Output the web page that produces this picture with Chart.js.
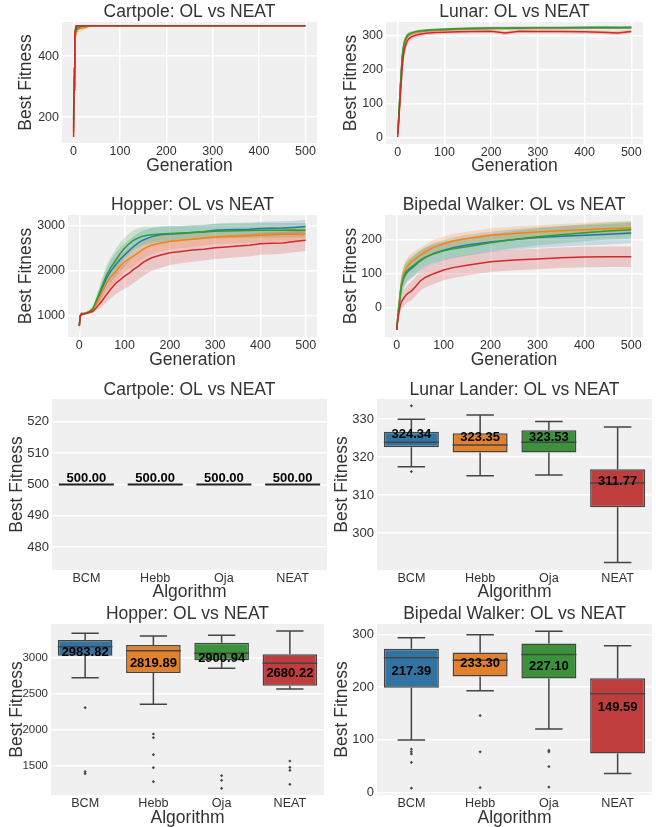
<!DOCTYPE html>
<html lang="en">
<head>
  <meta charset="UTF-8">
  <title>OL vs NEAT</title>
  <script src="https://cdn.jsdelivr.net/npm/chart.js@4"></script>
  <style>
    body { margin: 0; background: #fff; width: 656px; height: 827px; position: relative; overflow: hidden; }
    canvas { position: absolute; }
  </style>
</head>
<body>
  <canvas id="c1"></canvas><canvas id="c2"></canvas>
  <canvas id="c3"></canvas><canvas id="c4"></canvas>
  <canvas id="c5"></canvas><canvas id="c6"></canvas>
  <canvas id="c7"></canvas><canvas id="c8"></canvas>

  <script>
    // ---- line charts: mean best fitness per generation (+/- std band) ----
    const cpGen = [0,1,2,3,4,5,6,7,8,10,12,15,20,25,30,40,60,100,200,300,400,500];
    const cpBcm  = [165,330,430,470,485,492,495,497,499,500,500,500,500,500,500,500,500,500,500,500,500,500];
    const cpHebb = [150,300,410,455,470,478,482,485,487,489,490,491,492,494,497,499,500,500,500,500,500,500];
    const cpOja  = [190,360,440,470,480,485,487,489,490,492,494,496,498,499,500,500,500,500,500,500,500,500];
    const cpNeat = [135,290,420,470,490,496,498,500,500,500,500,500,500,500,500,500,500,500,500,500,500,500];
    const cpBcmSd  = [30,60,50,30,18,10,6,4,2,0,0,0,0,0,0,0,0,0,0,0,0,0];
    const cpHebbSd = [30,70,70,45,30,25,20,18,16,13,12,10,9,7,4,2,0,0,0,0,0,0];
    const cpOjaSd  = [30,60,55,35,25,18,14,12,10,8,6,4,3,2,0,0,0,0,0,0,0,0];
    const cpNeatSd = [30,70,60,30,12,5,3,0,0,0,0,0,0,0,0,0,0,0,0,0,0,0];

    const lnGen = [0,2,4,6,8,10,12,15,20,25,30,40,50,60,80,100,130,160,200,230,260,300,350,400,450,470,500];
    const lnBcm  = [12,55,105,155,200,240,262,282,298,304,307,311,313,315,317,318,320,321,322,322,323,323,323,324,324,324,324];
    const lnHebb = [10,50,100,150,195,235,258,280,296,302,306,310,312,314,316,317,319,320,321,321,322,322,323,323,323,323,323];
    const lnOja  = [14,58,108,158,202,242,264,284,299,305,308,312,314,315,317,318,320,321,322,322,322,323,323,323,324,323,324];
    const lnNeat = [2,40,85,130,170,210,238,262,284,292,297,302,305,307,309,310,311,312,313,308,313,312,312,311,309,308,312];
    const lnBcmSd  = [10,20,25,25,25,22,18,12,8,6,5,4,4,4,4,4,4,4,4,4,4,4,4,4,4,4,4];
    const lnHebbSd = [10,20,25,25,25,22,18,13,9,7,6,5,5,5,5,5,4,4,4,4,4,4,4,4,4,4,4];
    const lnOjaSd  = [10,20,25,25,25,22,18,12,8,6,5,4,4,4,4,4,4,4,4,4,4,4,4,4,4,4,4];
    const lnNeatSd = [8,18,25,28,28,26,22,16,12,10,9,8,7,7,6,6,6,6,6,6,6,6,6,6,6,6,6];

    const hpGen = [0,2,5,10,15,20,25,30,35,40,50,60,70,80,90,100,110,120,130,140,150,160,180,200,225,250,275,300,325,350,375,400,425,450,475,500];
    const hpBcm  = [780,1000,1040,1045,1060,1080,1110,1150,1250,1360,1600,1830,2000,2130,2250,2350,2450,2540,2620,2680,2720,2760,2800,2820,2830,2850,2870,2900,2910,2920,2925,2940,2945,2950,2965,2985];
    const hpHebb = [780,1000,1040,1045,1060,1080,1105,1140,1220,1310,1520,1720,1870,1980,2100,2200,2270,2330,2400,2470,2530,2570,2620,2650,2680,2700,2730,2750,2760,2770,2780,2790,2800,2810,2815,2820];
    const hpOja  = [780,1000,1040,1045,1060,1080,1110,1160,1280,1400,1650,1900,2080,2230,2380,2500,2600,2680,2730,2770,2790,2800,2820,2830,2840,2850,2860,2880,2885,2890,2895,2900,2900,2900,2905,2900];
    const hpNeat = [780,1000,1040,1045,1055,1070,1085,1100,1150,1210,1330,1470,1600,1720,1800,1880,1950,2030,2100,2180,2240,2290,2350,2400,2430,2460,2480,2510,2530,2550,2570,2600,2610,2620,2650,2680];
    const hpBcmSd  = [150,60,40,30,30,30,40,50,80,120,180,220,250,260,260,250,240,230,220,210,200,190,180,170,160,160,155,150,150,150,150,150,150,150,150,150];
    const hpHebbSd = [150,60,40,30,30,30,40,50,70,100,150,190,210,220,230,230,230,230,220,220,210,200,190,180,175,170,165,160,160,160,160,160,160,160,160,160];
    const hpOjaSd  = [150,60,40,30,30,30,40,50,80,120,180,220,240,250,250,240,230,220,210,200,190,180,170,160,160,160,160,160,160,160,160,160,160,160,160,160];
    const hpNeatSd = [150,60,40,30,30,30,40,50,60,80,120,170,210,240,260,280,290,300,300,300,300,290,280,270,260,260,250,250,250,250,250,245,245,240,240,240];

    const bpGen = [0,2,4,6,8,10,15,20,25,30,40,50,60,70,80,100,120,150,200,250,300,350,400,450,500];
    const bpBcm  = [-65,-33,-5,18,42,63,87,100,108,113,125,137,146,153,159,168,175,183,192,199,205,209,212,215,218];
    const bpHebb = [-65,-30,0,25,50,70,100,115,125,132,143,153,162,170,177,187,195,202,212,217,221,225,228,231,233];
    const bpOja  = [-65,-32,-3,20,45,66,90,105,112,118,128,139,147,153,158,166,172,178,190,199,207,213,219,224,228];
    const bpNeat = [-65,-40,-20,-5,8,17,28,37,43,47,61,78,88,94,100,110,117,124,134,139,142,146,148,149,149];
    const bpBcmSd  = [5,15,20,25,28,30,30,30,30,30,30,30,30,30,30,30,30,30,30,30,30,30,30,30,30];
    const bpHebbSd = [5,15,20,25,25,25,25,25,25,25,24,23,22,22,22,21,21,20,20,20,20,20,20,20,20];
    const bpOjaSd  = [5,15,20,25,28,30,30,30,30,30,30,28,27,27,27,26,26,26,25,25,25,25,25,25,25];
    const bpNeatSd = [5,10,15,18,20,22,24,25,26,27,28,29,30,30,30,30,30,30,30,30,30,30,30,30,30];

    // ---- box plots: final best fitness per algorithm ----
    const algos = ['BCM', 'Hebb', 'Oja', 'NEAT'];

    const cbLo = [500,500,500,500], cbQ1 = [500,500,500,500], cbMed = [500,500,500,500];
    const cbQ3 = [500,500,500,500], cbHi = [500,500,500,500];
    const cbFly = [[], [], [], []];
    const cbMean = [500.00, 500.00, 500.00, 500.00];

    const lbLo  = [317.5, 315.1, 315.3, 292.3];
    const lbQ1  = [322.6, 321.2, 321.2, 306.8];
    const lbMed = [323.9, 323.2, 323.9, 313.2];
    const lbQ3  = [326.7, 326.3, 327.1, 316.8];
    const lbHi  = [330.0, 331.1, 329.4, 327.9];
    const lbFly = [[333.5, 316.2], [], [], []];
    const lbMean = [324.34, 323.35, 323.53, 311.77];

    const hbLo  = [2718, 2347, 2847, 2560];
    const hbQ1  = [3023, 2782, 2958, 2606];
    const hbMed = [3148, 3093, 3056, 2917];
    const hbQ3  = [3241, 3171, 3204, 3042];
    const hbHi  = [3333, 3296, 3306, 3366];
    const hbFly = [[2301, 1412, 1384], [1935, 1884, 1648, 1468, 1273], [1356, 1292, 1181], [1560, 1472, 1431, 1236]];
    const hbMean = [2983.82, 2819.89, 2900.94, 2680.22];

    const bbLo  = [99.4, 193, 120.3, 36];
    const bbQ1  = [198.7, 220.3, 216.5, 74];
    const bbMed = [255.7, 251.3, 262, 187.3];
    const bbQ3  = [272.8, 265.8, 282.9, 217.1];
    const bbHi  = [293.7, 299.4, 306.3, 278.5];
    const bbFly = [[82, 77, 73, 57, 8], [146, 77, 9], [80, 77, 49, 10], []];
    const bbMean = [217.39, 233.30, 227.10, 149.59];

    const lineColors = ['#1f77b4', '#ff7f0e', '#2ca02c', '#d62728'];
    const boxColors = ['#3274a1', '#e1812c', '#3a923a', '#c03d3e'];

    const FONT = "'Liberation Sans', Arial, Helvetica, sans-serif";
    Chart.defaults.font.family = FONT;
    Chart.defaults.color = '#333';

    // subplot frames (canvas box + plot area), page pixels
    const L1 = {x:0,   y:0,   w:328, h:180, l:62,  t:22,  r:317, b:143, ty:12,  xt:165.7, yt:26.5};
    const L2 = {x:328, y:0,   w:328, h:180, l:386, t:22,  r:643, b:144, ty:12,  xt:165.7, yt:351.3};
    const L3 = {x:0,   y:180, w:328, h:190, l:68,  t:215, r:317, b:337, ty:205, xt:360,   yt:26.5};
    const L4 = {x:328, y:180, w:328, h:190, l:385, t:215, r:643, b:337, ty:205, xt:360,   yt:351.3};
    const L5 = {x:0,   y:370, w:328, h:240, l:52,  t:399, r:327, b:570, ty:390, xt:591.7, yt:17};
    const L6 = {x:328, y:370, w:328, h:240, l:377, t:399, r:652, b:570, ty:390, xt:591.7, yt:342.5};
    const L7 = {x:0,   y:598, w:328, h:229, l:51,  t:624, r:327, b:795, ty:614, xt:818,   yt:17};
    const L8 = {x:328, y:598, w:328, h:229, l:377, t:624, r:652, b:795, ty:614, xt:818,   yt:342.5};

    const plotBg = {
      id: 'plotBg',
      beforeDraw(chart) {
        const { ctx, chartArea: a } = chart;
        ctx.save();
        ctx.fillStyle = '#f0f0f0';
        ctx.fillRect(a.left, a.top, a.right - a.left, a.bottom - a.top);
        ctx.restore();
      }
    };

    const axTitle = {
      id: 'axTitle',
      afterDraw(chart, args, o) {
        const { ctx, chartArea: a } = chart;
        ctx.save();
        ctx.font = '17.5px ' + FONT;
        ctx.fillStyle = '#333';
        ctx.textAlign = 'center';
        ctx.textBaseline = 'middle';
        ctx.fillText(o.text, (a.left + a.right) / 2, o.y);
        ctx.restore();
      }
    };

    function setup(id, L) {
      const cv = document.getElementById(id);
      cv.width = L.w; cv.height = L.h;
      cv.style.left = L.x + 'px';
      cv.style.top = L.y + 'px';
      return cv;
    }

    function rgba(hex, a) {
      const n = parseInt(hex.slice(1), 16);
      return `rgba(${n >> 16},${(n >> 8) & 255},${n & 255},${a})`;
    }

    function fixedTicks(vals) {
      return s => { s.ticks = vals.map(v => ({ value: v })); };
    }

    function baseOptions(L, title, xTitle, yMin, yMax, yTicks) {
      return {
        responsive: false,
        animation: false,
        events: [],
        layout: { padding: { left: 0, top: L.t - L.y, right: L.x + L.w - L.r, bottom: 0 } },
        plugins: {
          legend: { display: false },
          tooltip: { enabled: false },
          axTitle: { text: title, y: L.ty - L.y }
        },
        scales: {
          x: {
            afterFit: s => { s.height = L.y + L.h - L.b; },
            border: { display: false },
            grid: { color: '#ffffff', lineWidth: 1.5, drawTicks: false },
            ticks: { padding: 1, font: { size: 12.5 }, color: '#333', maxRotation: 0 },
            title: { display: true, text: xTitle, color: '#333', font: { size: 17.5, lineHeight: 1 },
                     padding: { top: 0, bottom: L.y + L.h - L.xt - 8.75 } }
          },
          y: {
            type: 'linear', min: yMin, max: yMax,
            afterBuildTicks: fixedTicks(yTicks),
            afterFit: s => { s.width = L.l - L.x; },
            border: { display: false },
            grid: { color: '#ffffff', lineWidth: 1.5, drawTicks: false },
            ticks: { padding: 3, font: { size: 12.5 }, color: '#333', callback: v => String(v) },
            title: { display: true, text: 'Best Fitness', color: '#333', font: { size: 17.5, lineHeight: 1 },
                     padding: { top: L.yt - L.x - 8.75, bottom: 0 } }
          }
        }
      };
    }

    function series(gen, mean, sd, color, order) {
      const pts = arr => gen.map((g, i) => ({ x: g, y: arr[i] }));
      const hi = mean.map((m, i) => m + sd[i]);
      const lo = mean.map((m, i) => m - sd[i]);
      return [
        { data: pts(hi), borderWidth: 0, pointRadius: 0, fill: '+1', backgroundColor: rgba(color, 0.2), order: order + 10 },
        { data: pts(lo), borderWidth: 0, pointRadius: 0, fill: false, order: order + 10 },
        { data: pts(mean), borderColor: color, borderWidth: 1.5, pointRadius: 0, fill: false, order: order }
      ];
    }

    function lineChart(id, L, title, gen, means, sds, yMin, yMax, yTicks) {
      const cv = setup(id, L);
      const datasets = [];
      // NEAT drawn last in matplotlib -> lowest order here
      means.forEach((m, i) => datasets.push(...series(gen, m, sds[i], lineColors[i], 3 - i)));
      const options = baseOptions(L, title, 'Generation', yMin, yMax, yTicks);
      Object.assign(options.scales.x, {
        type: 'linear', min: -25, max: 525,
        afterBuildTicks: fixedTicks([0, 100, 200, 300, 400, 500])
      });
      options.scales.x.ticks.callback = v => String(v);
      return new Chart(cv, { type: 'line', data: { datasets }, options, plugins: [plotBg, axTitle] });
    }

    function boxParts(st) {
      return {
        id: 'boxParts',
        afterDatasetsDraw(chart) {
          const { ctx } = chart;
          const xs = chart.scales.x, ys = chart.scales.y;
          const bars = chart.getDatasetMeta(0).data;
          const Y = v => ys.getPixelForValue(v);
          ctx.save();
          ctx.strokeStyle = st.line;
          ctx.lineWidth = st.lw;
          st.med.forEach((m, i) => {
            const xc = xs.getPixelForValue(i);
            const hw = bars[i].width / 2, cw = hw / 2;
            ctx.beginPath();
            ctx.moveTo(xc, Y(st.q3[i])); ctx.lineTo(xc, Y(st.hi[i]));
            ctx.moveTo(xc - cw, Y(st.hi[i])); ctx.lineTo(xc + cw, Y(st.hi[i]));
            ctx.moveTo(xc, Y(st.q1[i])); ctx.lineTo(xc, Y(st.lo[i]));
            ctx.moveTo(xc - cw, Y(st.lo[i])); ctx.lineTo(xc + cw, Y(st.lo[i]));
            ctx.moveTo(xc - hw, Y(m)); ctx.lineTo(xc + hw, Y(m));
            ctx.stroke();
          });
          ctx.fillStyle = '#000';
          ctx.font = 'bold 13px ' + FONT;
          ctx.textAlign = 'center';
          ctx.textBaseline = 'bottom';
          st.mean.forEach((v, i) => ctx.fillText(v.toFixed(2), xs.getPixelForValue(i), Y(v)));
          ctx.restore();
        }
      };
    }

    function boxChart(id, L, title, st, yMin, yMax, yTicks, yFont) {
      const cv = setup(id, L);
      const fliers = [];
      st.fly.forEach((arr, i) => arr.forEach(v => fliers.push({ x: algos[i], y: v })));
      const options = baseOptions(L, title, 'Algorithm', yMin, yMax, yTicks);
      Object.assign(options.scales.x, { type: 'category', offset: true });
      options.scales.x.grid = { display: false, drawTicks: false };
      options.scales.x.ticks.font = { size: 12.6 };
      options.scales.y.ticks.font = { size: yFont };
      return new Chart(cv, {
        type: 'bar',
        data: {
          labels: algos,
          datasets: [
            {
              data: algos.map((a, i) => [st.q1[i], st.q3[i]]),
              backgroundColor: boxColors,
              borderColor: '#444',
              borderWidth: st.bw,
              borderSkipped: false,
              barPercentage: 0.8,
              categoryPercentage: 1,
              order: 1
            },
            {
              type: 'line',
              data: fliers,
              showLine: false,
              pointStyle: 'rectRot',
              pointRadius: 1.6,
              pointBorderWidth: 0,
              pointBackgroundColor: '#444',
              order: 0
            }
          ]
        },
        options,
        plugins: [plotBg, axTitle, boxParts(st)]
      });
    }

    lineChart('c1', L1, 'Cartpole: OL vs NEAT', cpGen,
      [cpBcm, cpHebb, cpOja, cpNeat], [cpBcmSd, cpHebbSd, cpOjaSd, cpNeatSd], 115, 512, [200, 400]);
    lineChart('c2', L2, 'Lunar: OL vs NEAT', lnGen,
      [lnBcm, lnHebb, lnOja, lnNeat], [lnBcmSd, lnHebbSd, lnOjaSd, lnNeatSd], -18.5, 340, [0, 100, 200, 300]);
    lineChart('c3', L3, 'Hopper: OL vs NEAT', hpGen,
      [hpBcm, hpHebb, hpOja, hpNeat], [hpBcmSd, hpHebbSd, hpOjaSd, hpNeatSd], 530, 3240, [1000, 2000, 3000]);
    lineChart('c4', L4, 'Bipedal Walker: OL vs NEAT', bpGen,
      [bpBcm, bpHebb, bpOja, bpNeat], [bpBcmSd, bpHebbSd, bpOjaSd, bpNeatSd], -86, 271, [0, 100, 200]);

    boxChart('c5', L5, 'Cartpole: OL vs NEAT',
      { lo: cbLo, q1: cbQ1, med: cbMed, q3: cbQ3, hi: cbHi, fly: cbFly, mean: cbMean, line: '#222', lw: 2, bw: 0 },
      472.7, 527.3, [480, 490, 500, 510, 520], 13);
    boxChart('c6', L6, 'Lunar Lander: OL vs NEAT',
      { lo: lbLo, q1: lbQ1, med: lbMed, q3: lbQ3, hi: lbHi, fly: lbFly, mean: lbMean, line: '#444', lw: 1.5, bw: 1.5 },
      290.3, 335.3, [300, 310, 320, 330], 13);
    boxChart('c7', L7, 'Hopper: OL vs NEAT',
      { lo: hbLo, q1: hbQ1, med: hbMed, q3: hbQ3, hi: hbHi, fly: hbFly, mean: hbMean, line: '#444', lw: 1.5, bw: 1.5 },
      1088, 3463, [1500, 2000, 2500, 3000], 11.5);
    boxChart('c8', L8, 'Bipedal Walker: OL vs NEAT',
      { lo: bbLo, q1: bbQ1, med: bbMed, q3: bbQ3, hi: bbHi, fly: bbFly, mean: bbMean, line: '#444', lw: 1.5, bw: 1.5 },
      -5, 320, [0, 100, 200, 300], 13);
  </script>
</body>
</html>
